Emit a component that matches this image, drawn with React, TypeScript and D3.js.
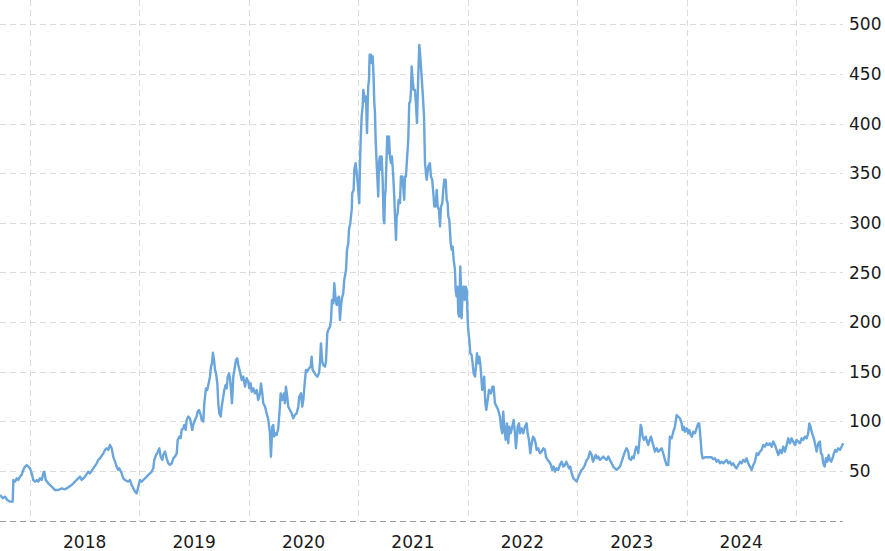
import React from "react";
import * as d3 from "d3";

// [fractional year, price]
const d2017: [number, number][] = [
  [2017.726, 25.7], [2017.751, 22.4], [2017.772, 24.0], [2017.793, 20.7], [2017.817, 19.0],
  [2017.842, 19.0], [2017.848, 40.8], [2017.863, 39.2], [2017.879, 42.5], [2017.893, 40.8],
  [2017.909, 44.2], [2017.924, 45.9], [2017.939, 50.9], [2017.954, 54.3], [2017.970, 55.9],
  [2017.985, 54.3],
];
const d2018: [number, number][] = [
  [2018.000, 52.6], [2018.016, 47.5], [2018.030, 40.8], [2018.046, 39.2], [2018.061, 40.8],
  [2018.076, 39.2], [2018.091, 42.5], [2018.107, 40.8], [2018.122, 47.5], [2018.131, 49.2],
  [2018.144, 40.8], [2018.167, 37.5], [2018.198, 34.1], [2018.229, 30.7], [2018.259, 30.7],
  [2018.290, 32.4], [2018.320, 31.4], [2018.350, 33.4], [2018.381, 35.8], [2018.411, 39.2],
  [2018.441, 42.5], [2018.457, 44.2], [2018.472, 40.8], [2018.503, 44.2], [2018.533, 49.2],
  [2018.548, 47.5], [2018.579, 52.6], [2018.610, 57.6], [2018.624, 61.0], [2018.640, 62.7],
  [2018.670, 67.7], [2018.685, 71.1], [2018.701, 72.7], [2018.716, 71.1], [2018.731, 76.1],
  [2018.747, 72.7], [2018.761, 64.3], [2018.777, 59.3], [2018.792, 54.3], [2018.807, 50.9],
  [2018.816, 52.6], [2018.838, 47.5], [2018.853, 42.5], [2018.868, 40.8], [2018.898, 39.2],
  [2018.914, 40.8], [2018.929, 35.8], [2018.944, 32.4], [2018.960, 29.1], [2018.975, 27.4],
  [2018.990, 34.1],
];
const d2019: [number, number][] = [
  [2019.005, 40.8], [2019.021, 39.1], [2019.035, 40.8], [2019.051, 42.5], [2019.066, 44.2],
  [2019.081, 45.9], [2019.097, 47.6], [2019.112, 49.2], [2019.127, 52.6], [2019.136, 61.0],
  [2019.152, 66.0], [2019.163, 67.7], [2019.182, 72.7], [2019.194, 64.4], [2019.209, 61.0],
  [2019.218, 66.0], [2019.234, 69.4], [2019.249, 62.7], [2019.264, 57.6], [2019.279, 56.0],
  [2019.295, 57.6], [2019.310, 62.7], [2019.325, 64.4], [2019.341, 67.7], [2019.350, 81.2],
  [2019.364, 84.5], [2019.377, 82.9], [2019.386, 91.3], [2019.401, 92.9], [2019.410, 96.3],
  [2019.423, 91.3], [2019.432, 101.3], [2019.447, 104.7], [2019.462, 103.0], [2019.471, 98.0],
  [2019.483, 91.3], [2019.492, 96.3], [2019.508, 101.3], [2019.523, 104.7], [2019.532, 109.7],
  [2019.544, 111.4], [2019.560, 106.4], [2019.569, 101.3], [2019.584, 99.7], [2019.593, 118.1],
  [2019.608, 133.1], [2019.620, 131.5], [2019.633, 138.2], [2019.645, 144.9], [2019.654, 155.0],
  [2019.663, 158.4], [2019.672, 169.2], [2019.682, 161.8], [2019.691, 151.7], [2019.700, 148.4],
  [2019.712, 138.2], [2019.721, 118.1], [2019.730, 108.1], [2019.743, 104.7], [2019.752, 114.8],
  [2019.767, 124.9], [2019.776, 131.5], [2019.788, 136.6], [2019.798, 133.2], [2019.807, 144.9],
  [2019.819, 148.3], [2019.828, 143.3], [2019.837, 131.5], [2019.846, 118.1], [2019.858, 144.9],
  [2019.873, 155.0], [2019.883, 161.8], [2019.894, 163.4], [2019.904, 156.7], [2019.919, 150.0],
  [2019.935, 141.6], [2019.949, 145.0], [2019.965, 134.9], [2019.980, 143.3], [2019.995, 139.9],
];
const d2020: [number, number][] = [
  [2020.004, 133.2], [2020.017, 138.2], [2020.026, 129.8], [2020.041, 133.2], [2020.056, 128.1],
  [2020.072, 131.5], [2020.086, 121.4], [2020.102, 128.1], [2020.111, 138.2], [2020.123, 128.1],
  [2020.132, 118.1], [2020.148, 114.7], [2020.163, 108.0], [2020.178, 101.3], [2020.193, 87.8],
  [2020.202, 64.3], [2020.214, 94.6], [2020.223, 96.2], [2020.232, 84.5], [2020.245, 87.8],
  [2020.254, 86.2], [2020.269, 92.9], [2020.284, 114.7], [2020.291, 128.1], [2020.306, 121.4],
  [2020.321, 128.1], [2020.330, 118.1], [2020.339, 134.9], [2020.351, 124.8], [2020.360, 114.7],
  [2020.376, 111.4], [2020.391, 108.0], [2020.406, 103.0], [2020.422, 106.4], [2020.437, 108.0],
  [2020.452, 114.7], [2020.461, 124.8], [2020.477, 128.1], [2020.488, 114.7], [2020.498, 121.4],
  [2020.513, 141.6], [2020.522, 151.7], [2020.534, 150.0], [2020.550, 153.4], [2020.565, 155.0],
  [2020.574, 165.1], [2020.583, 151.7], [2020.595, 150.0], [2020.611, 146.6], [2020.626, 144.9],
  [2020.641, 148.3], [2020.650, 158.4], [2020.659, 178.5], [2020.671, 160.1], [2020.680, 156.7],
  [2020.696, 155.0], [2020.705, 160.1], [2020.717, 188.6], [2020.726, 192.0], [2020.742, 195.4],
  [2020.751, 202.1], [2020.760, 222.2], [2020.772, 218.8], [2020.781, 239.0], [2020.794, 222.2],
  [2020.803, 217.2], [2020.812, 223.9], [2020.824, 225.6], [2020.833, 202.1], [2020.842, 215.5],
  [2020.851, 223.9], [2020.863, 228.9], [2020.872, 242.4], [2020.888, 252.3], [2020.897, 272.7],
  [2020.909, 279.4], [2020.915, 292.8], [2020.927, 299.6], [2020.940, 313.0], [2020.945, 329.8],
  [2020.958, 333.2], [2020.964, 353.3], [2020.976, 360.1], [2020.986, 350.0], [2020.995, 339.9],
];
const d2021: [number, number][] = [
  [2021.009, 319.8], [2021.016, 360.1], [2021.022, 383.6], [2021.031, 407.1], [2021.040, 417.2],
  [2021.046, 433.9], [2021.055, 427.2], [2021.061, 422.2], [2021.071, 427.2], [2021.080, 390.3],
  [2021.086, 417.2], [2021.091, 437.3], [2021.098, 444.0], [2021.104, 469.3], [2021.116, 469.3],
  [2021.123, 460.9], [2021.132, 467.6], [2021.141, 444.0], [2021.146, 422.2], [2021.153, 410.5],
  [2021.159, 383.6], [2021.168, 360.1], [2021.177, 339.9], [2021.183, 326.4], [2021.189, 360.1],
  [2021.198, 366.8], [2021.207, 353.3], [2021.214, 366.8], [2021.223, 343.2], [2021.232, 302.9],
  [2021.238, 299.6], [2021.244, 326.4], [2021.250, 333.2], [2021.260, 370.2], [2021.265, 387.0],
  [2021.274, 370.2], [2021.281, 387.0], [2021.290, 366.8], [2021.299, 360.1], [2021.308, 366.8],
  [2021.320, 346.6], [2021.329, 326.4], [2021.336, 306.3], [2021.345, 282.8], [2021.351, 306.3],
  [2021.360, 309.7], [2021.369, 323.1], [2021.381, 319.8], [2021.390, 346.6], [2021.402, 346.6],
  [2021.411, 336.5], [2021.420, 323.1], [2021.427, 346.6], [2021.436, 346.6], [2021.445, 363.4],
  [2021.457, 383.6], [2021.466, 420.6], [2021.475, 422.2], [2021.482, 433.9], [2021.488, 457.5],
  [2021.497, 444.0], [2021.506, 433.9], [2021.518, 433.9], [2021.527, 420.6], [2021.537, 400.4],
  [2021.543, 427.2], [2021.552, 460.9], [2021.558, 479.3], [2021.567, 467.6], [2021.579, 447.4],
  [2021.591, 427.2], [2021.601, 407.1], [2021.610, 360.1], [2021.625, 343.3], [2021.640, 356.7],
  [2021.655, 360.1], [2021.664, 346.6], [2021.676, 343.3], [2021.686, 329.8], [2021.695, 316.4],
  [2021.707, 316.4], [2021.717, 333.2], [2021.726, 316.4], [2021.738, 313.0], [2021.747, 296.2],
  [2021.756, 316.4], [2021.768, 319.8], [2021.777, 333.2], [2021.786, 343.3], [2021.799, 343.3],
  [2021.808, 323.1], [2021.817, 319.8], [2021.823, 306.3], [2021.832, 302.9], [2021.845, 279.4],
  [2021.854, 272.7], [2021.863, 276.0], [2021.872, 262.6], [2021.884, 252.5], [2021.890, 232.4],
  [2021.899, 225.6], [2021.908, 235.7], [2021.914, 208.8], [2021.923, 205.5], [2021.932, 255.9],
  [2021.939, 235.7], [2021.945, 203.8], [2021.954, 232.4], [2021.963, 235.7], [2021.972, 222.3],
  [2021.981, 235.7], [2021.991, 232.4],
];
const d2022: [number, number][] = [
  [2022.000, 202.1], [2022.005, 192.0], [2022.015, 181.9], [2022.024, 168.5], [2022.036, 166.8],
  [2022.045, 158.4], [2022.055, 148.3], [2022.067, 145.0], [2022.076, 155.0], [2022.085, 168.5],
  [2022.097, 158.4], [2022.106, 165.1], [2022.115, 158.4], [2022.124, 145.0], [2022.133, 131.5],
  [2022.142, 138.2], [2022.151, 145.0], [2022.161, 118.1], [2022.170, 111.4], [2022.183, 121.4],
  [2022.195, 131.5], [2022.213, 128.1], [2022.225, 134.9], [2022.237, 134.9], [2022.249, 118.1],
  [2022.265, 114.7], [2022.279, 111.4], [2022.295, 104.7], [2022.304, 94.6], [2022.316, 87.9],
  [2022.325, 109.7], [2022.334, 94.6], [2022.347, 81.2], [2022.359, 97.9], [2022.371, 77.8],
  [2022.380, 94.6], [2022.393, 87.9], [2022.407, 94.6], [2022.420, 101.3], [2022.432, 87.9],
  [2022.441, 72.8], [2022.457, 94.6], [2022.469, 97.9], [2022.478, 87.9], [2022.493, 92.9],
  [2022.508, 87.9], [2022.523, 94.6], [2022.539, 97.9], [2022.548, 87.9], [2022.560, 81.2],
  [2022.572, 67.8], [2022.585, 77.8], [2022.597, 84.5], [2022.609, 82.9], [2022.621, 77.8],
  [2022.630, 71.1], [2022.645, 72.8], [2022.660, 67.8], [2022.676, 69.4], [2022.691, 72.8],
  [2022.706, 71.1], [2022.715, 64.4], [2022.731, 61.0], [2022.745, 59.3], [2022.761, 56.0],
  [2022.773, 51.0], [2022.786, 54.3], [2022.798, 49.3], [2022.813, 52.6], [2022.828, 51.0],
  [2022.843, 56.0], [2022.859, 59.3], [2022.874, 54.3], [2022.889, 56.0], [2022.901, 59.3],
  [2022.914, 56.0], [2022.926, 52.6], [2022.938, 54.3], [2022.950, 47.7], [2022.965, 42.6],
  [2022.980, 41.0], [2022.996, 39.3],
];
const d2023: [number, number][] = [
  [2023.011, 43.7], [2023.026, 47.7], [2023.041, 51.0], [2023.056, 52.6], [2023.072, 56.0],
  [2023.087, 61.0], [2023.102, 62.7], [2023.117, 69.4], [2023.133, 66.0], [2023.145, 59.3],
  [2023.157, 62.7], [2023.170, 66.0], [2023.181, 62.7], [2023.193, 64.4], [2023.209, 61.0],
  [2023.224, 62.7], [2023.239, 64.4], [2023.254, 62.7], [2023.270, 61.0], [2023.285, 64.4],
  [2023.300, 61.0], [2023.316, 57.6], [2023.330, 54.3], [2023.346, 52.6], [2023.361, 51.0],
  [2023.376, 52.6], [2023.392, 54.3], [2023.407, 59.3], [2023.422, 64.4], [2023.437, 69.4],
  [2023.453, 72.8], [2023.467, 69.4], [2023.476, 62.7], [2023.492, 61.0], [2023.504, 64.4],
  [2023.517, 62.7], [2023.529, 69.4], [2023.541, 74.4], [2023.553, 72.8], [2023.559, 67.8],
  [2023.572, 82.9], [2023.581, 96.3], [2023.590, 92.9], [2023.599, 84.5], [2023.611, 81.2],
  [2023.627, 84.5], [2023.639, 79.5], [2023.650, 76.1], [2023.663, 81.2], [2023.675, 84.5],
  [2023.687, 79.5], [2023.700, 74.4], [2023.711, 69.4], [2023.727, 72.8], [2023.742, 69.4],
  [2023.757, 71.1], [2023.773, 72.8], [2023.787, 67.7], [2023.803, 61.0], [2023.818, 55.9],
  [2023.833, 55.9], [2023.842, 71.1], [2023.848, 84.5], [2023.864, 82.8], [2023.879, 89.5],
  [2023.894, 94.6], [2023.903, 101.3], [2023.910, 106.3], [2023.924, 104.6], [2023.940, 103.0],
  [2023.955, 98.0], [2023.964, 91.2], [2023.976, 94.6], [2023.985, 89.5],
];
const d2024: [number, number][] = [
  [2024.001, 92.9], [2024.016, 87.9], [2024.025, 91.2], [2024.038, 86.2], [2024.050, 84.5],
  [2024.061, 89.5], [2024.077, 87.9], [2024.092, 92.9], [2024.107, 97.9], [2024.116, 97.9],
  [2024.129, 81.2], [2024.138, 67.7], [2024.147, 62.7], [2024.168, 63.7], [2024.198, 63.7],
  [2024.229, 63.7], [2024.244, 61.7], [2024.260, 62.7], [2024.275, 59.3], [2024.290, 61.0],
  [2024.305, 57.6], [2024.321, 59.3], [2024.336, 57.6], [2024.351, 59.3], [2024.367, 61.0],
  [2024.381, 57.6], [2024.397, 59.3], [2024.412, 55.9], [2024.427, 57.6], [2024.443, 54.3],
  [2024.458, 52.6], [2024.473, 55.9], [2024.488, 59.3], [2024.504, 57.6], [2024.518, 61.0],
  [2024.534, 59.3], [2024.549, 62.7], [2024.564, 57.6], [2024.580, 54.3], [2024.595, 50.9],
  [2024.610, 55.9], [2024.625, 59.3], [2024.641, 67.7], [2024.655, 66.0], [2024.671, 69.4],
  [2024.686, 71.1], [2024.701, 76.1], [2024.717, 74.4], [2024.732, 77.8], [2024.747, 76.1],
  [2024.762, 77.8], [2024.778, 74.4], [2024.793, 79.5], [2024.808, 76.1], [2024.823, 71.1],
  [2024.838, 66.0], [2024.854, 71.1], [2024.869, 67.7], [2024.884, 74.4], [2024.899, 69.4],
  [2024.915, 76.1], [2024.930, 82.8], [2024.945, 77.8], [2024.960, 82.8], [2024.975, 79.5],
  [2024.991, 76.1],
];
const d2025: [number, number][] = [
  [2025.006, 81.2], [2025.021, 79.5], [2025.037, 77.8], [2025.052, 82.8], [2025.067, 81.2],
  [2025.082, 84.5], [2025.098, 82.8], [2025.112, 87.9], [2025.122, 97.9], [2025.134, 94.6],
  [2025.143, 89.5], [2025.158, 84.5], [2025.167, 81.2], [2025.180, 74.4], [2025.189, 69.4],
  [2025.204, 77.8], [2025.219, 79.5], [2025.228, 67.7], [2025.240, 66.0], [2025.249, 57.6],
  [2025.262, 54.3], [2025.274, 62.7], [2025.286, 59.3], [2025.299, 66.0], [2025.311, 61.0],
  [2025.322, 59.3], [2025.335, 62.7], [2025.347, 67.7], [2025.359, 71.1], [2025.372, 69.4],
  [2025.386, 72.8], [2025.402, 71.1], [2025.417, 74.4], [2025.432, 77.8],
];

const yTicks = [50, 100, 150, 200, 250, 300, 350, 400, 450, 500];
const yearBoundaries = [2018, 2019, 2020, 2021, 2022, 2023, 2024, 2025];
const yearLabels = ["2018", "2019", "2020", "2021", "2022", "2023", "2024"];

const W = 885;
const H = 551;
const FONT = "'DejaVu Sans', Verdana, sans-serif";

export default function App() {
  const series = [...d2017, ...d2018, ...d2019, ...d2020, ...d2021, ...d2022, ...d2023, ...d2024, ...d2025];
  const x = d3.scaleLinear().domain([2017.726, 2025.43]).range([0, 843]);
  const y = d3.scaleLinear().domain([0, 500]).range([520.5, 24.3]);
  const line = d3
    .line<[number, number]>()
    .x((d) => x(d[0]))
    .y((d) => y(d[1]));
  const crisp = (v: number) => Math.round(v) + 0.5;
  const plotRight = 843;
  const axisY = crisp(y(0));

  return (
    <svg
      width={W}
      height={H}
      style={{ position: "absolute", left: 0, top: 0, background: "#fff" }}
      fontFamily={FONT}
    >
      {yTicks.map((t) => (
        <line
          key={"h" + t}
          x1={0}
          x2={plotRight}
          y1={crisp(y(t))}
          y2={crisp(y(t))}
          stroke="#dcdcdc"
          strokeWidth={1}
          strokeDasharray="6,4"
        />
      ))}
      {yearBoundaries.map((yr) => (
        <line
          key={"v" + yr}
          x1={crisp(x(yr))}
          x2={crisp(x(yr))}
          y1={0}
          y2={axisY}
          stroke="#dcdcdc"
          strokeWidth={1}
          strokeDasharray="6,4"
        />
      ))}
      <line
        x1={0}
        x2={plotRight}
        y1={axisY}
        y2={axisY}
        stroke="#9a9a9a"
        strokeWidth={1}
        strokeDasharray="6,4"
      />
      <path d={line(series) || ""} fill="none" stroke="#6aa5dc" strokeWidth={2.4} strokeLinejoin="round" />
      {yTicks.map((t) => (
        <text key={"yl" + t} x={849} y={y(t)} dy="0.36em" fontSize={17} fill="#1a1a1a">
          {t}
        </text>
      ))}
      {yearLabels.map((lbl, i) => (
        <text
          key={"xl" + lbl}
          x={x(yearBoundaries[i] + 0.5)}
          y={547.5}
          textAnchor="middle"
          fontSize={17}
          fill="#1a1a1a"
        >
          {lbl}
        </text>
      ))}
    </svg>
  );
}
